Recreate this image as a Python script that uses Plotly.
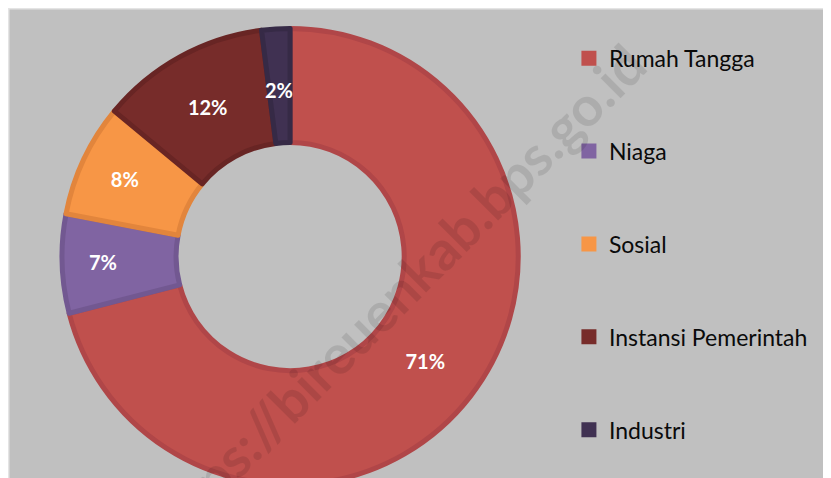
import math
import plotly.graph_objects as go

# Kategori pelanggan dan persentase
labels = ["Rumah Tangga", "Niaga", "Sosial", "Instansi Pemerintah", "Industri"]
values = [71, 7, 8, 12, 2]
colors = ["#C0504D", "#8064A2", "#F79646", "#772C2A", "#403152"]
edge_colors = ["#B04648", "#725891", "#E2853C", "#682524", "#362A46"]

W, H = 831, 478
dom_x = [0.065, 0.614]
dom_y = [0.0, 0.96]
hole = 0.5

fig = go.Figure()

# slices that are too thin for plotly's inside text get a placed label instead
total = sum(values)
small = [v / total < 0.03 for v in values]

fig.add_trace(go.Pie(
    labels=labels,
    values=values,
    hole=hole,
    sort=False,
    direction="clockwise",
    rotation=0,
    marker=dict(colors=colors, line=dict(color=edge_colors, width=5)),
    textinfo="percent",
    textposition=["none" if s else "inside" for s in small],
    insidetextorientation="horizontal",
    textfont=dict(family="Lato", size=20, color="white", weight="bold"),
    showlegend=False,
    domain=dict(x=dom_x, y=dom_y),
))

cx = (dom_x[0] + dom_x[1]) / 2 * W
cy = (dom_y[0] + dom_y[1]) / 2 * H - 4
R = min((dom_x[1] - dom_x[0]) * W, (dom_y[1] - dom_y[0]) * H) / 2
cum = 0
for v, s in zip(values, small):
    mid = (cum + v / 2) / total * 2 * math.pi
    cum += v
    if not s:
        continue
    r = R * (1 + hole) / 2
    fig.add_annotation(
        text=f"{v / total:.0%}", xref="paper", yref="paper",
        x=(cx + r * math.sin(mid)) / W, y=(cy + r * math.cos(mid)) / H,
        xanchor="center", yanchor="middle", showarrow=False,
        font=dict(family="Lato", size=20, color="white", weight="bold"),
    )

# legend entries (one group per category so they can be spaced out)
for lab, col in zip(labels, colors):
    fig.add_trace(go.Scatter(
        x=[None], y=[None], mode="markers", name=lab, legendgroup=lab,
        marker=dict(symbol="square", size=15, color=col),
    ))

fig.add_annotation(
    text="https://bireuenkab.bps.go.id",
    xref="paper", yref="paper", x=0.4645, y=0.40,
    xanchor="center", yanchor="middle",
    textangle=-45, showarrow=False,
    font=dict(family="Lato", size=55, color="rgba(0,0,0,0.10)", weight="bold"),
)

fig.add_shape(type="rect", xref="paper", yref="paper", x0=0, y0=0, x1=1, y1=1,
              line=dict(color="#E4E4E4", width=3))

fig.update_layout(
    width=W, height=H,
    margin=dict(l=0, r=0, t=0, b=0),
    paper_bgcolor="#C0C0C0",
    plot_bgcolor="#C0C0C0",
    xaxis=dict(visible=False),
    yaxis=dict(visible=False),
    legend=dict(
        x=0.675, y=0.94, xanchor="left", yanchor="top",
        font=dict(family="Lato", size=23, color="#0a0a0a"),
        tracegroupgap=60,
        bgcolor="rgba(0,0,0,0)",
        itemclick=False,
    ),
)

fig.write_html("out.html")
